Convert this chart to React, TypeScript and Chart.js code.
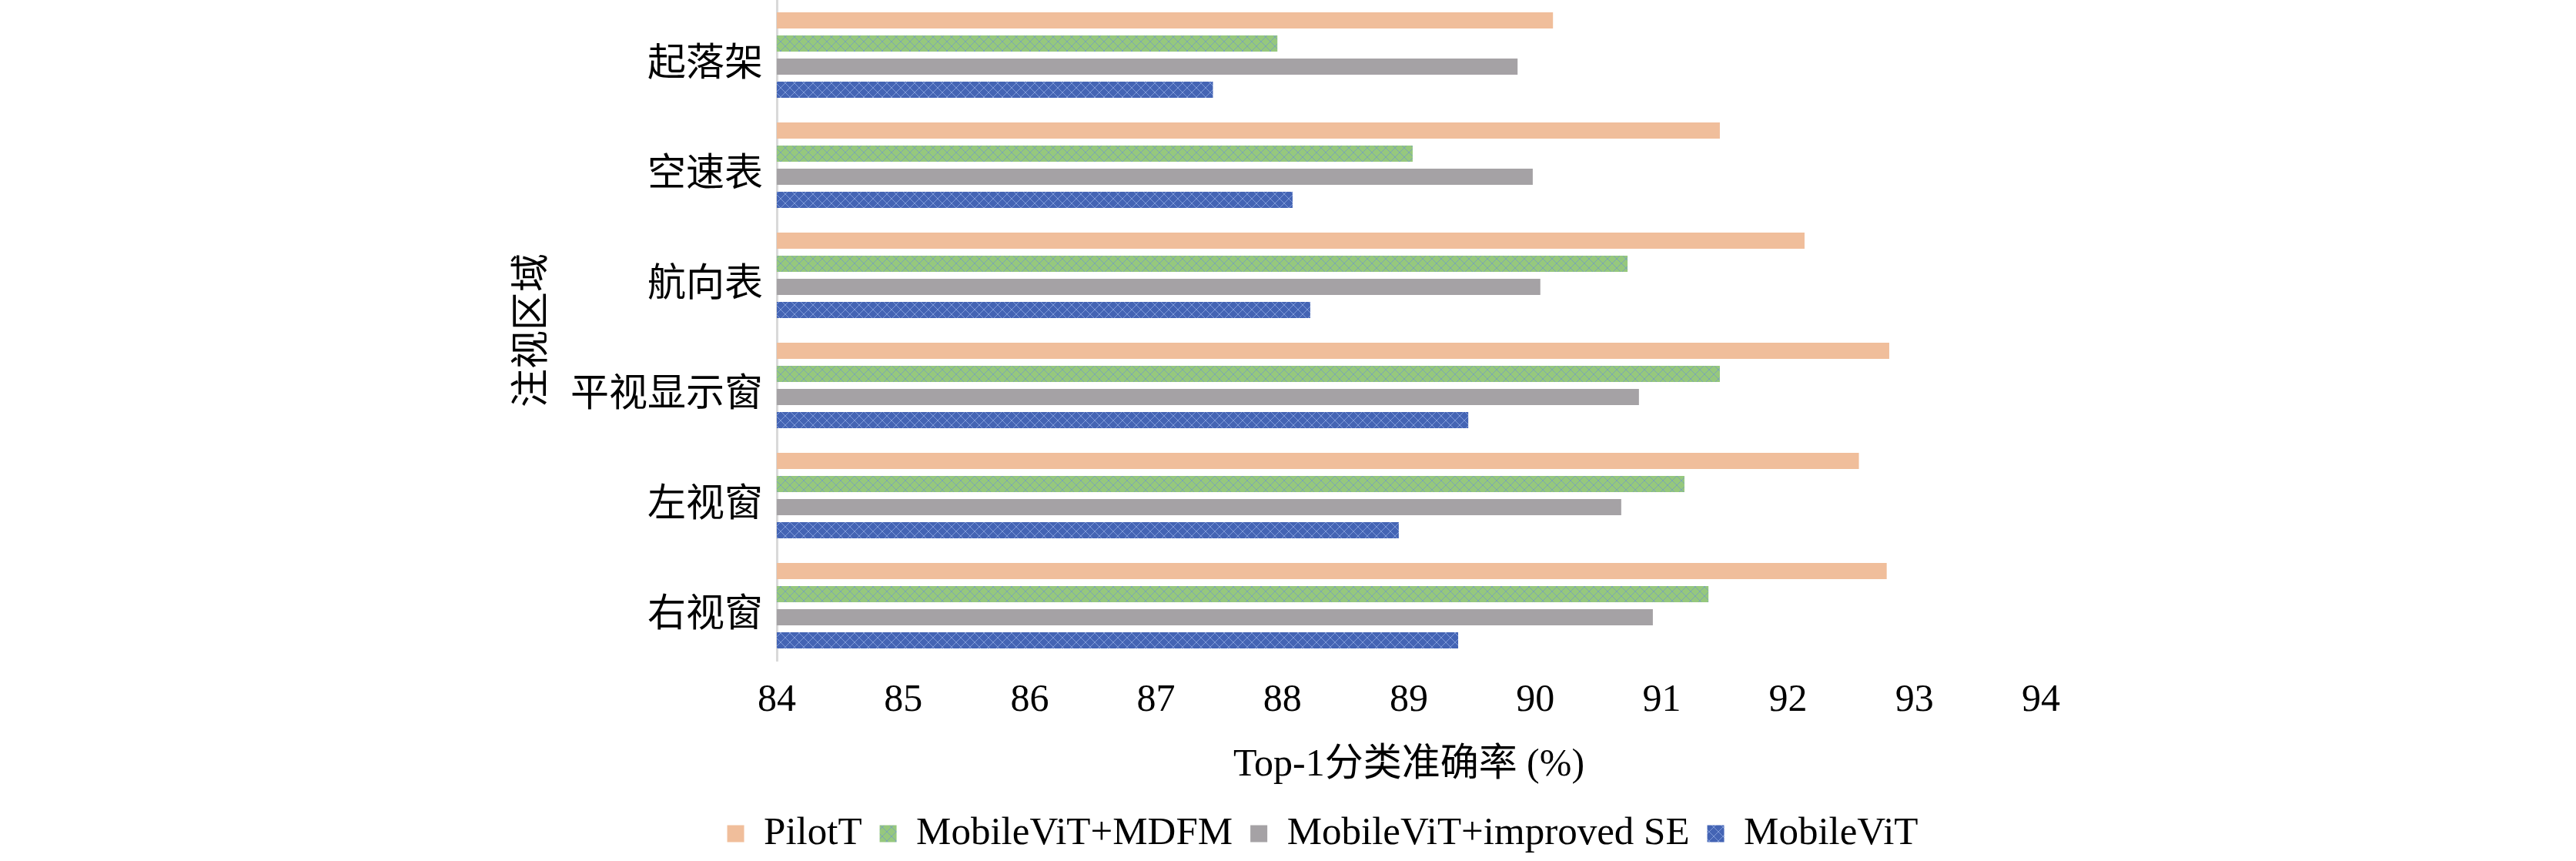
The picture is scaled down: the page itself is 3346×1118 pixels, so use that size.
import React, { useEffect, useRef } from "react";
import { Chart, registerables, ChartConfiguration } from "chart.js";

Chart.register(...registerables);

const regions = ["起落架", "空速表", "航向表", "平视显示窗", "左视窗", "右视窗"];
const seriesNames = ["PilotT", "MobileViT+MDFM", "MobileViT+improved SE", "MobileViT"];
const pilotT = [90.14, 91.46, 92.13, 92.8, 92.56, 92.78];
const mdfm = [87.96, 89.03, 90.73, 91.46, 91.18, 91.37];
const improvedSE = [89.86, 89.98, 90.04, 90.82, 90.68, 90.93];
const mobileViT = [87.45, 88.08, 88.22, 89.47, 88.92, 89.39];
const xMin = 84;
const xMax = 94;
const xTitle = "Top-1分类准确率 (%)";
const yTitle = "注视区域";

const family = "'Liberation Serif', 'Noto Sans CJK SC', serif";
const font = { family, size: 50 };
const legendFont = { family, size: 51 };

// small diamond lattice like the Office "outlined diamond" fill
function crossPattern(base: string, line: string): CanvasPattern | string {
  const c = document.createElement("canvas");
  c.width = 12;
  c.height = 12;
  const g = c.getContext("2d");
  if (!g) return base;
  g.fillStyle = base;
  g.fillRect(0, 0, 12, 12);
  g.strokeStyle = line;
  g.lineWidth = 1;
  g.beginPath();
  g.moveTo(0, 0);
  g.lineTo(12, 12);
  g.moveTo(12, 0);
  g.lineTo(0, 12);
  g.stroke();
  return g.createPattern(c, "repeat") ?? base;
}

const App: React.FC = () => {
  const chartRef = useRef<HTMLCanvasElement>(null);
  const chartInstance = useRef<Chart | null>(null);

  useEffect(() => {
    document.body.style.margin = "0";
    document.body.style.overflow = "hidden";
    if (!chartRef.current) return;
    if (chartInstance.current) chartInstance.current.destroy();
    const ctx = chartRef.current.getContext("2d");
    if (!ctx) return;

    const fills = [
      "#F0BE9B",
      crossPattern("#96C87D", "#7AA5B5"),
      "#A5A2A5",
      crossPattern("#4464B4", "#7F9AD8"),
    ];
    const values = [pilotT, mdfm, improvedSE, mobileViT];

    const config: ChartConfiguration = {
      type: "bar",
      data: {
        labels: regions,
        datasets: seriesNames.map((name, i) => ({
          label: name,
          data: values[i],
          backgroundColor: fills[i] as any,
          borderWidth: 0,
          categoryPercentage: 0.84,
          barPercentage: 0.7,
        })),
      },
      options: {
        indexAxis: "y",
        responsive: true,
        maintainAspectRatio: false,
        animation: false,
        devicePixelRatio: 1,
        layout: { padding: { left: 650, right: 560, top: 0, bottom: 0 } },
        plugins: {
          legend: {
            position: "bottom",
            labels: {
              font: legendFont,
              color: "#000",
              boxWidth: 22,
              boxHeight: 22,
              padding: 23,
            },
          },
          tooltip: { enabled: false },
        },
        scales: {
          x: {
            min: xMin,
            max: xMax,
            ticks: { stepSize: 1, font, color: "#000", padding: 22 },
            grid: { display: false, drawTicks: false },
            border: { display: false },
            title: {
              display: true,
              text: xTitle,
              font,
              color: "#000",
              padding: { top: 0, bottom: 10 },
            },
            afterFit: (scale: any) => {
              scale.height = 176;
            },
          },
          y: {
            grid: { display: false, drawTicks: false },
            border: { display: true, color: "#D9D9D9", width: 3 },
            ticks: { font, color: "#000", padding: 18, labelOffset: 13 },
            title: {
              display: true,
              text: yTitle,
              font,
              color: "#000",
              padding: { top: 13, bottom: 0 },
            },
            afterFit: (scale: any) => {
              scale.width = 359;
              scale.paddingTop = 0;
              scale.paddingBottom = 0;
            },
          },
          // empty spacer on the right so the legend centres like the original
          spacer: {
            type: "linear",
            axis: "y",
            position: "right",
            grid: { display: false, drawTicks: false },
            border: { display: false },
            ticks: { display: false },
            afterFit: (scale: any) => {
              scale.width = 135;
              scale.paddingTop = 0;
              scale.paddingBottom = 0;
            },
          },
        },
      },
    };

    chartInstance.current = new Chart(ctx, config);

    return () => {
      if (chartInstance.current) {
        chartInstance.current.destroy();
        chartInstance.current = null;
      }
    };
  }, []);

  return (
    <div style={{ width: 3346, height: 1118, position: "relative", background: "#fff" }}>
      <canvas ref={chartRef} />
    </div>
  );
};

export default App;
